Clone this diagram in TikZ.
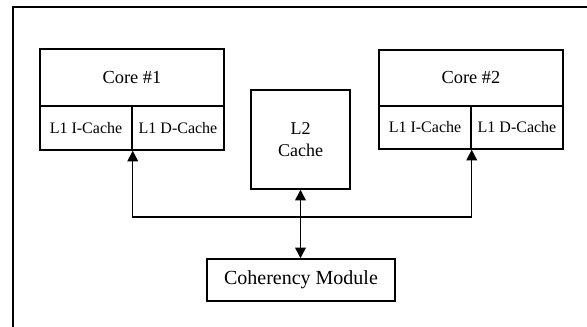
\documentclass[tikz,border=0pt]{standalone}
\usepackage{fontspec}
\setmainfont{Liberation Serif}
\usetikzlibrary{arrows.meta}

\begin{document}
\begin{tikzpicture}[x=0.75pt,y=-0.75pt,line width=1.1pt,
  >={Triangle[length=8pt,width=8pt]},
  box/.style={draw,rectangle,inner sep=0pt,anchor=center},
  cell/.style={box,font=\fontsize{12}{14}\selectfont},
  corebox/.style={box,font=\fontsize{13.8}{16}\selectfont}]
\useasboundingbox (0,0) rectangle (587,327);
% outer frame (cut at the right and the bottom)
\draw (13,327) -- (13,7) -- (587,7);
% core 1
\node [corebox,minimum width=184*0.75pt,minimum height=57*0.75pt] (core1) at (132,77.5) {Core \#1};
\node [cell,minimum width=92*0.75pt,minimum height=44*0.75pt] (icache1) at (86,128) {L1 I-Cache};
\node [cell,minimum width=92*0.75pt,minimum height=44*0.75pt] (dcache1) at (178,128) {L1 D-Cache};
% core 2
\node [corebox,minimum width=184*0.75pt,minimum height=56*0.75pt] (core2) at (471,78) {Core \#2};
\node [cell,minimum width=92*0.75pt,minimum height=43*0.75pt] (icache2) at (425,127.5) {L1 I-Cache};
\node [cell,minimum width=92*0.75pt,minimum height=43*0.75pt] (dcache2) at (517,127.5) {L1 D-Cache};
% shared cache and coherency
\node [box,font=\fontsize{13.5}{17}\selectfont,align=center,minimum width=99*0.75pt,minimum height=99*0.75pt] (l2) at (300.5,139.5) {L2\\Cache};
\node [box,font=\fontsize{15}{18}\selectfont,minimum width=188*0.75pt,minimum height=42*0.75pt] (coh) at (301,280) {Coherency Module};
% bus
\coordinate (bus) at (300.5,217);
\draw [<->] (icache1.south east) |- (bus) -| (icache2.south east);
\draw [<->] (l2.south) -- (l2.south |- coh.north);
\end{tikzpicture}
\end{document}
